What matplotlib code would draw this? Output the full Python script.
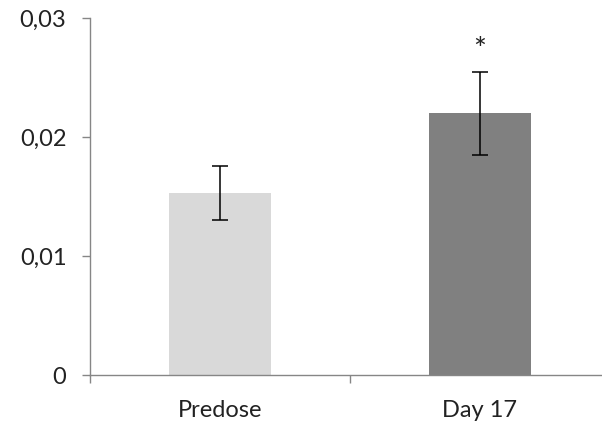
import matplotlib
matplotlib.use('Agg')
import matplotlib.pyplot as plt
from matplotlib.ticker import FuncFormatter, FixedLocator

# 数据
categories = ['Predose', 'Day 17']
values = [0.0153, 0.0220]
errors = [0.0023, 0.0035]
bar_colors = ['#d9d9d9', '#808080']
y_ticks = [0, 0.01, 0.02, 0.03]

plt.rcParams['font.family'] = ['Lato', 'DejaVu Sans']

fig = plt.figure(figsize=(6.02, 4.24), dpi=100)
ax = fig.add_axes([90 / 602, 49 / 424, 520 / 602, 357 / 424])

x = list(range(len(categories)))
ax.bar(x, values, width=0.39, color=bar_colors, zorder=2)
ax.errorbar(x, values, yerr=errors, fmt='none', ecolor='black',
            elinewidth=1.1, capsize=5.5, capthick=1.1, zorder=3)

# 显著性标记
ax.text(x[1], values[1] + errors[1] + 0.0018, '*', ha='center', va='center',
        fontsize=22, color='#222222')

ax.set_xlim(-0.5, 1.5)
ax.set_ylim(0, 0.03)
ax.set_yticks(y_ticks)
ax.yaxis.set_major_formatter(FuncFormatter(
    lambda v, p: '0' if v == 0 else f'{v:.2f}'.replace('.', ',')))

ax.set_xticks(x)
ax.set_xticklabels(categories)
ax.xaxis.set_minor_locator(FixedLocator([-0.5, 0.5, 1.5]))
ax.tick_params(axis='x', which='major', length=0, pad=18, labelsize=17,
               labelcolor='#222222')
ax.tick_params(axis='x', which='minor', length=6, width=1, color='#868686')
ax.tick_params(axis='y', length=6, width=1, color='#868686', pad=11,
               labelsize=17, labelcolor='#222222')

for s in ['top', 'right']:
    ax.spines[s].set_visible(False)
for s in ['left', 'bottom']:
    ax.spines[s].set_color('#868686')
    ax.spines[s].set_linewidth(1)

fig.savefig('out.png', dpi=100)
